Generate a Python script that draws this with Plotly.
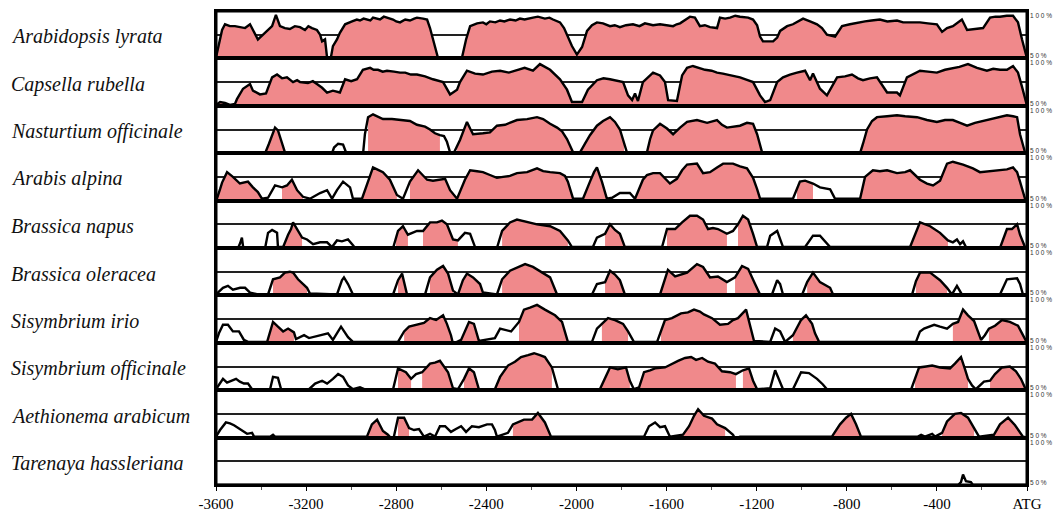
import plotly.graph_objects as go
from plotly.subplots import make_subplots

species = ["Arabidopsis lyrata", "Capsella rubella", "Nasturtium officinale", "Arabis alpina",
           "Brassica napus", "Brassica oleracea", "Sisymbrium irio", "Sisymbrium officinale",
           "Aethionema arabicum", "Tarenaya hassleriana"]

tick_vals = [-3600, -3200, -2800, -2400, -2000, -1600, -1200, -800, -400, 0]
tick_text = ["-3600", "-3200", "-2800", "-2400", "-2000", "-1600", "-1200", "-800", "-400", "ATG"]

# ---- conservation curves (position bp, % identity) ----
lyrata_pos = [-3600, -3591, -3573, -3560, -3538, -3516, -3493, -3471, -3449, -3436, -3414, -3391, -3369, -3351,
              -3334, -3316, -3294, -3272, -3250, -3227, -3205, -3190, -3174, -3152, -3138, -3129, -3116, -3107,
              -3090, -3081, -3063, -3050, -3027, -3010, -2996, -2975, -2961, -2945, -2930, -2915, -2903, -2885,
              -2872, -2855, -2841, -2814, -2800, -2783, -2760, -2739, -2720, -2708, -2681, -2663, -2650, -2632,
              -2615, -2508, -2490, -2472, -2455, -2441, -2415, -2400, -2384, -2360, -2339, -2320, -2295, -2270,
              -2251, -2230, -2193, -2171, -2140, -2120, -2104, -2073, -2055, -2042, -2020, -1998, -1975, -1953,
              -1931, -1909, -1882, -1851, -1830, -1807, -1780, -1749, -1720, -1696, -1660, -1629, -1598, -1571,
              -1555, -1540, -1496, -1474, -1452, -1430, -1407, -1376, -1363, -1340, -1318, -1295, -1274, -1238,
              -1216, -1198, -1185, -1172, -1127, -1109, -1096, -1065, -1039, -1015, -994, -963, -932, -910, -888,
              -852, -821, -786, -750, -719, -690, -653, -620, -577, -550, -519, -475, -440, -400, -377, -355,
              -329, -289, -266, -231, -195, -164, -140, -120, -90, -62, -40, -22, -4, 0]
lyrata_val = [51, 60, 80, 86, 84, 84, 83, 82, 86, 80, 70, 75, 80, 84,
              96, 84, 82, 81, 84, 83, 80, 84, 82, 80, 75, 68, 70, 51,
              51, 63, 70, 77, 86, 88, 89, 91, 90, 92, 91, 90, 93, 92,
              91, 94, 93, 91, 89, 88, 91, 90, 92, 93, 92, 91, 82, 65,
              51, 51, 70, 84, 86, 87, 88, 86, 89, 88, 90, 89, 91, 90,
              92, 91, 93, 94, 92, 93, 91, 88, 82, 75, 63, 54, 62, 79,
              85, 88, 87, 84, 85, 83, 85, 86, 84, 87, 85, 86, 85, 84,
              86, 87, 94, 93, 84, 85, 83, 82, 93, 92, 93, 95, 94, 93,
              91, 85, 73, 68, 68, 72, 79, 84, 86, 89, 92, 89, 86, 82, 75,
              73, 84, 86, 88, 89, 90, 91, 89, 90, 88, 88, 88, 87, 86, 78, 82,
              84, 91, 80, 81, 82, 93, 94, 94, 95, 95, 88, 70, 52, 50]
lyrata_fill = [(-3600, 0)]

capsella_pos = [-3600, -3582, -3560, -3538, -3516, -3507, -3480, -3449, -3436, -3405, -3378, -3351, -3329, -3307,
                -3285, -3258, -3240, -3227, -3192, -3170, -3152, -3129, -3107, -3081, -3050, -3027, -3000, -2974,
                -2948, -2916, -2900, -2881, -2860, -2841, -2810, -2783, -2760, -2735, -2708, -2672, -2637, -2592,
                -2561, -2530, -2517, -2486, -2450, -2415, -2375, -2339, -2300, -2264, -2230, -2193, -2162, -2117,
                -2073, -2042, -2020, -1975, -1949, -1909, -1880, -1851, -1820, -1793, -1771, -1753, -1740, -1727,
                -1705, -1660, -1629, -1607, -1593, -1554, -1531, -1509, -1483, -1455, -1429, -1400, -1376, -1350,
                -1318, -1274, -1240, -1216, -1185, -1163, -1140, -1109, -1083, -1052, -1021, -985, -963, -950,
                -919, -888, -843, -808, -777, -750, -728, -697, -666, -621, -577, -564, -533, -500, -475, -440,
                -400, -364, -329, -300, -262, -222, -178, -150, -120, -89, -62, -40, -22, -4, 0]
capsella_val = [51, 54, 53, 51, 52, 57, 68, 73, 66, 62, 63, 80, 83, 79,
                80, 75, 77, 75, 74, 76, 73, 69, 64, 66, 64, 78, 76, 78,
                88, 90, 88, 88, 86, 87, 86, 85, 85, 83, 83, 81, 78, 75,
                62, 67, 75, 87, 84, 83, 86, 87, 85, 88, 90, 87, 94, 88,
                78, 67, 54, 54, 67, 77, 79, 78, 76, 75, 61, 56, 63, 55,
                75, 85, 82, 75, 56, 55, 82, 90, 92, 90, 88, 87, 85, 84,
                82, 80, 77, 75, 61, 54, 56, 75, 80, 83, 85, 87, 77, 84,
                68, 61, 80, 81, 83, 79, 77, 79, 80, 64, 64, 61, 80, 84, 87, 86,
                85, 88, 90, 91, 94, 90, 87, 89, 88, 88, 92, 85, 70, 51, 50]
capsella_fill = [(-3600, 0)]

nasturtium_pos = [-3600, -3382, -3365, -3351, -3338, -3325, -3307, -3294, -3280, -3085, -3076, -3058, -3036, -3023,
                  -3014, -2947, -2939, -2925, -2903, -2872, -2859, -2819, -2774, -2739, -2708, -2672, -2650, -2628,
                  -2606, -2588, -2575, -2561, -2543, -2530, -2517, -2504, -2486, -2472, -2459, -2415, -2384, -2353,
                  -2317, -2264, -2219, -2175, -2148, -2117, -2086, -2064, -2042, -2015, -1984, -1962, -1940, -1909,
                  -1882, -1851, -1829, -1807, -1789, -1776, -1687, -1673, -1660, -1629, -1598, -1571, -1540, -1509,
                  -1465, -1420, -1376, -1354, -1332, -1305, -1274, -1243, -1216, -1198, -1185, -1176, -1163, -741,
                  -728, -710, -688, -666, -621, -577, -541, -488, -444, -400, -364, -329, -297, -266, -231, -178,
                  -133, -89, -62, -44, -31, -9, 0]
nasturtium_val = [50, 50, 60, 70, 77, 74, 62, 51, 50, 50, 56, 60, 59, 51,
                  50, 50, 70, 88, 91, 88, 86, 86, 85, 84, 80, 78, 75, 71,
                  69, 68, 62, 51, 51, 57, 64, 72, 83, 76, 70, 71, 72, 79,
                  80, 85, 86, 88, 86, 81, 77, 73, 65, 51, 51, 60, 69, 79,
                  84, 88, 83, 75, 60, 51, 51, 65, 74, 81, 76, 70, 77, 83,
                  85, 82, 85, 80, 77, 78, 79, 82, 81, 70, 58, 51, 50, 50,
                  60, 75, 84, 88, 89, 90, 89, 88, 85, 83, 85, 85, 82, 79, 82, 85,
                  87, 90, 89, 88, 70, 51, 50]
nasturtium_fill = [(-3385, -3280), (-2935, -2592), (-2535, -2010), (-1985, -1780), (-1690, -1170), (-745, 0)]

arabis_pos = [-3600, -3596, -3582, -3573, -3551, -3525, -3494, -3458, -3436, -3414, -3396, -3369, -3338, -3307,
              -3285, -3263, -3240, -3214, -3183, -3138, -3107, -3085, -3063, -3036, -3005, -2992, -2952, -2930,
              -2903, -2885, -2859, -2828, -2797, -2770, -2739, -2703, -2663, -2637, -2606, -2583, -2561, -2530,
              -2495, -2472, -2441, -2415, -2384, -2353, -2326, -2295, -2264, -2219, -2175, -2148, -2117, -2073,
              -2051, -2038, -2015, -1971, -1940, -1922, -1909, -1887, -1865, -1842, -1807, -1763, -1740, -1705,
              -1687, -1660, -1629, -1607, -1585, -1554, -1531, -1509, -1483, -1465, -1438, -1407, -1376, -1349,
              -1305, -1274, -1243, -1216, -1198, -1185, -1039, -1021, -1008, -985, -950, -919, -874, -861, -852,
              -741, -719, -684, -653, -621, -577, -541, -519, -475, -444, -417, -386, -355, -329, -284, -240,
              -209, -164, -120, -89, -62, -44, -31, -9, 0]
arabis_val = [51, 52, 62, 69, 80, 75, 68, 70, 64, 59, 52, 53, 66, 64,
              66, 72, 61, 54, 52, 58, 61, 52, 61, 70, 64, 52, 52, 66,
              85, 83, 80, 72, 56, 52, 70, 82, 72, 71, 72, 73, 61, 52,
              72, 82, 81, 80, 77, 74, 75, 76, 79, 80, 84, 81, 80, 79,
              76, 70, 52, 52, 70, 80, 85, 70, 52, 53, 58, 58, 52, 72,
              77, 79, 79, 73, 68, 73, 82, 88, 89, 89, 79, 80, 85, 89,
              89, 86, 84, 74, 62, 52, 52, 62, 70, 71, 68, 64, 62, 56, 52,
              52, 75, 82, 81, 82, 79, 80, 82, 72, 68, 66, 71, 89, 91, 88, 84,
              80, 81, 82, 83, 85, 80, 70, 52, 51]
arabis_fill = [(-3600, -3396), (-3310, -3214), (-2952, -2797), (-2765, -2015), (-1975, -1865),
               (-1740, -1185), (-1025, -950), (-741, 0)]

napus_pos = [-3600, -3502, -3493, -3485, -3480, -3476, -3382, -3369, -3351, -3329, -3325, -3302, -3280, -3267,
             -3258, -3240, -3218, -3196, -3169, -3138, -3107, -3085, -3063, -3041, -3014, -2992, -2983, -2814,
             -2801, -2792, -2770, -2748, -2708, -2681, -2650, -2619, -2597, -2575, -2548, -2526, -2495, -2472,
             -2450, -2353, -2330, -2295, -2264, -2228, -2175, -2117, -2073, -2038, -2020, -1927, -1909, -1873,
             -1851, -1829, -1807, -1785, -1620, -1598, -1562, -1531, -1496, -1465, -1438, -1416, -1394, -1372,
             -1332, -1305, -1283, -1261, -1238, -1216, -1198, -1154, -1140, -1109, -1083, -985, -950, -919,
             -897, -874, -519, -497, -475, -430, -386, -351, -329, -311, -297, -284, -271, -120, -89, -67,
             -44, -31, -9, 0]
napus_val = [50, 50, 55, 61, 52, 50, 50, 66, 69, 66, 51, 51, 64, 70,
             77, 70, 61, 59, 54, 56, 56, 51, 58, 57, 59, 53, 50, 50,
             60, 68, 73, 64, 68, 68, 77, 77, 79, 75, 59, 58, 66, 65,
             51, 50, 68, 77, 80, 78, 75, 73, 68, 58, 51, 51, 61, 65,
             75, 69, 65, 51, 51, 70, 70, 77, 84, 84, 80, 70, 71, 70,
             65, 68, 75, 84, 80, 65, 51, 51, 63, 68, 51, 51, 63, 63,
             57, 51, 51, 65, 77, 73, 66, 58, 56, 59, 54, 57, 51, 50, 70, 70,
             75, 64, 51, 50]
napus_fill = [(-3305, -3214), (-2801, -2710), (-2705, -2526), (-2340, -2025), (-1890, -1785),
              (-1610, -1310), (-1290, -1198), (-519, -351), (-120, 0)]

oleracea_pos = [-3600, -3569, -3547, -3525, -3493, -3471, -3449, -3414, -3369, -3347, -3316, -3294, -3272, -3258,
                -3236, -3196, -3183, -3063, -3041, -3032, -3014, -2992, -2814, -2792, -2774, -2752, -2672, -2650,
                -2619, -2592, -2570, -2548, -2526, -2504, -2486, -2459, -2428, -2415, -2353, -2330, -2295, -2251,
                -2228, -2193, -2148, -2117, -2086, -1931, -1909, -1873, -1851, -1829, -1807, -1785, -1629, -1594,
                -1562, -1509, -1465, -1438, -1407, -1372, -1332, -1296, -1265, -1238, -1207, -1185, -1132, -1109,
                -1096, -1083, -998, -976, -950, -919, -874, -861, -510, -493, -475, -430, -386, -355, -333, -311,
                -289, -120, -89, -44, -31, -18, 0]
oleracea_val = [51, 58, 60, 56, 58, 58, 53, 51, 51, 67, 69, 74, 75, 74,
                67, 58, 52, 51, 66, 69, 62, 51, 51, 66, 73, 51, 51, 69,
                77, 81, 73, 55, 51, 66, 73, 69, 62, 53, 51, 67, 76, 81,
                83, 80, 74, 69, 51, 51, 62, 64, 76, 72, 66, 51, 51, 77,
                70, 74, 83, 80, 69, 70, 64, 69, 81, 78, 62, 51, 51, 66,
                62, 51, 51, 64, 74, 64, 58, 51, 51, 65, 74, 74, 66, 58, 51, 60,
                51, 51, 67, 68, 62, 51, 50]
oleracea_fill = [(-3350, -3185), (-2800, -2752), (-2665, -2548), (-2526, -2415), (-2340, -2086),
                 (-1900, -1785), (-1630, -1332), (-1296, -1185), (-995, -861), (-505, -355)]

irio_pos = [-3600, -3587, -3569, -3547, -3525, -3498, -3476, -3458, -3373, -3347, -3325, -3302, -3280, -3254,
            -3245, -3209, -3187, -3138, -3103, -3081, -3045, -3014, -2992, -2792, -2765, -2743, -2699, -2677,
            -2650, -2623, -2592, -2575, -2557, -2548, -2530, -2512, -2477, -2455, -2433, -2362, -2339, -2290,
            -2255, -2233, -2206, -2175, -2140, -2095, -2064, -2038, -1931, -1909, -1887, -1860, -1829, -1793,
            -1771, -1745, -1642, -1625, -1607, -1576, -1536, -1505, -1478, -1452, -1434, -1398, -1363, -1327,
            -1305, -1283, -1247, -1229, -1212, -1140, -1118, -1096, -1074, -1039, -1003, -981, -954, -941,
            -923, -493, -475, -457, -412, -386, -355, -329, -306, -284, -262, -235, -218, -204, -187, -169,
            -142, -111, -76, -40, -22, -4, 0]
irio_val = [51, 60, 69, 69, 62, 62, 53, 51, 51, 72, 67, 62, 65, 61,
            54, 58, 55, 58, 60, 53, 67, 56, 51, 51, 62, 67, 70, 71,
            76, 74, 79, 70, 58, 49, 51, 53, 72, 70, 52, 55, 65, 62,
            72, 85, 87, 90, 85, 79, 72, 51, 51, 65, 70, 76, 74, 70,
            62, 51, 51, 62, 74, 76, 81, 82, 85, 83, 80, 76, 69, 70,
            74, 76, 85, 68, 52, 51, 65, 62, 51, 58, 74, 79, 70, 60,
            51, 51, 62, 65, 69, 67, 65, 70, 72, 85, 79, 73, 62, 53, 58, 65,
            68, 74, 72, 68, 60, 51, 50]
irio_fill = [(-3373, -3254), (-2770, -2557), (-2515, -2433), (-2265, -2038), (-1900, -1771),
             (-1630, -1212), (-1045, -923), (-335, -204), (-175, 0)]

officinale_pos = [-3600, -3569, -3551, -3533, -3511, -3494, -3476, -3458, -3440, -3360, -3347, -3325, -3311, -3187,
                  -3160, -3129, -3107, -3081, -3058, -3036, -3014, -2992, -2961, -2939, -2814, -2792, -2757, -2734,
                  -2712, -2685, -2650, -2628, -2606, -2570, -2548, -2526, -2499, -2477, -2455, -2433, -2362, -2339,
                  -2304, -2273, -2246, -2215, -2188, -2162, -2140, -2109, -2082, -1896, -1873, -1851, -1816, -1780,
                  -1763, -1745, -1722, -1700, -1673, -1651, -1607, -1576, -1549, -1518, -1491, -1469, -1442, -1416,
                  -1385, -1354, -1318, -1292, -1261, -1234, -1216, -1198, -1140, -1118, -1100, -1083, -1039, -1003,
                  -968, -932, -906, -888, -514, -497, -479, -448, -421, -386, -342, -320, -293, -275, -262, -244,
                  -227, -191, -164, -142, -111, -76, -49, -27, -4, 0]
officinale_val = [51, 62, 58, 60, 62, 59, 57, 57, 51, 51, 64, 63, 51, 51,
                  57, 60, 57, 62, 67, 64, 55, 51, 53, 51, 51, 73, 69, 62,
                  67, 69, 78, 79, 81, 69, 52, 51, 62, 73, 69, 51, 51, 64,
                  76, 80, 85, 87, 89, 87, 85, 74, 51, 51, 62, 74, 72, 74,
                  60, 51, 53, 69, 71, 73, 74, 78, 81, 84, 85, 82, 84, 80,
                  78, 70, 69, 67, 71, 73, 60, 51, 52, 71, 60, 51, 51, 69,
                  68, 62, 56, 51, 51, 63, 74, 75, 76, 74, 73, 78, 85, 72, 62, 55,
                  51, 59, 60, 67, 74, 75, 70, 62, 50, 50]
officinale_fill = [(-2800, -2734), (-2710, -2548), (-2515, -2433), (-2365, -2095), (-1900, -1763),
                   (-1725, -1292), (-1285, -1198), (-510, -250), (-170, 0)]

aethionema_pos = [-3600, -3582, -3556, -3538, -3520, -3489, -3462, -3440, -3431, -3360, -3347, -3338, -2930, -2908,
                  -2885, -2859, -2837, -2814, -2792, -2765, -2743, -2721, -2699, -2677, -2650, -2628, -2606, -2583,
                  -2557, -2535, -2512, -2490, -2464, -2433, -2397, -2375, -2362, -2353, -2304, -2282, -2255, -2233,
                  -2197, -2171, -2140, -2113, -1700, -1678, -1651, -1629, -1607, -1585, -1527, -1500, -1478, -1460,
                  -1434, -1398, -1376, -1340, -1305, -1296, -1274, -866, -830, -803, -781, -759, -737, -484, -470,
                  -453, -421, -408, -377, -355, -320, -293, -262, -235, -213, -147, -120, -84, -53, -18, 0]
aethionema_val = [51, 58, 66, 65, 63, 58, 54, 55, 51, 51, 53, 51, 51, 64,
                  69, 57, 53, 47, 71, 71, 60, 58, 59, 51, 54, 51, 62, 62,
                  56, 59, 62, 56, 62, 61, 64, 64, 58, 51, 55, 64, 67, 69,
                  69, 76, 66, 51, 51, 62, 66, 61, 62, 51, 53, 62, 73, 80,
                  73, 70, 64, 60, 53, 49, 51, 51, 64, 71, 75, 64, 51, 51, 53,
                  51, 54, 51, 55, 67, 75, 76, 71, 60, 51, 53, 64, 71, 63, 51, 50]
aethionema_fill = [(-2930, -2837), (-2800, -2730), (-2285, -2113), (-1530, -1330), (-875, -737),
                   (-380, -230), (-150, 0)]

tarenaya_pos = [-3600, -306, -293, -284, -271, -249, -240, 0]
tarenaya_val = [50, 50, 53, 61, 54, 53, 50, 50]
tarenaya_fill = []

curves = [(lyrata_pos, lyrata_val, lyrata_fill), (capsella_pos, capsella_val, capsella_fill),
          (nasturtium_pos, nasturtium_val, nasturtium_fill), (arabis_pos, arabis_val, arabis_fill),
          (napus_pos, napus_val, napus_fill), (oleracea_pos, oleracea_val, oleracea_fill),
          (irio_pos, irio_val, irio_fill), (officinale_pos, officinale_val, officinale_fill),
          (aethionema_pos, aethionema_val, aethionema_fill), (tarenaya_pos, tarenaya_val, tarenaya_fill)]

PINK = "#F0898B"
SERIF = "Liberation Serif, Times New Roman, serif"
SANS = "Liberation Sans, Arial, sans-serif"
n = len(species)
fig = make_subplots(rows=n, cols=1, shared_xaxes=True, vertical_spacing=0)

for i, (pos, val, segs) in enumerate(curves):
    row = i + 1
    for a, b in segs:
        xs = [p for p in pos if a <= p <= b]
        ys = [v for p, v in zip(pos, val) if a <= p <= b]
        if len(xs) < 2:
            continue
        fig.add_trace(go.Scatter(x=xs, y=ys, mode="lines", fill="tozeroy", fillcolor=PINK,
                                 line=dict(width=0, color=PINK), hoverinfo="skip", showlegend=False),
                      row=row, col=1)
    fig.add_trace(go.Scatter(x=pos, y=val, mode="lines", line=dict(color="black", width=2.4),
                             hoverinfo="skip", showlegend=False), row=row, col=1)
    fig.update_yaxes(range=[50, 100], tickvals=[75], showticklabels=False, ticks="",
                     showgrid=True, gridcolor="#222222", gridwidth=1.5, zeroline=False,
                     showline=True, mirror=True, linecolor="black", linewidth=2, row=row, col=1)
    fig.update_xaxes(range=[-3600, 0], showgrid=False, zeroline=False, showline=True, mirror=True,
                     linecolor="black", linewidth=2, row=row, col=1,
                     showticklabels=(row == n), ticks=("outside" if row == n else ""))

fig.update_xaxes(tickvals=tick_vals, ticktext=tick_text, ticklen=4, tickwidth=1, tickcolor="black",
                 minor=dict(dtick=200, tick0=-3600, ticks="outside", ticklen=3, tickcolor="#555"),
                 tickfont=dict(family=SERIF, size=15, color="black"),
                 row=n, col=1)

annotations = []
for i, name in enumerate(species):
    yc = 1 - (i + 0.5) / n
    annotations.append(dict(x=-0.2553, y=yc, xref="paper", yref="paper", text="<i>" + name + "</i>",
                            showarrow=False, xanchor="left", yanchor="middle", yshift=-2,
                            font=dict(family=SERIF, size=20, color="#111")))
    annotations.append(dict(x=1.001, y=1 - i / n, xref="paper", yref="paper", text="1 0 0 %",
                            showarrow=False, xanchor="left", yanchor="middle", yshift=-4.5,
                            font=dict(family=SANS, size=6.5, color="#333")))
    annotations.append(dict(x=1.001, y=1 - (i + 1) / n, xref="paper", yref="paper", text="5 0 %",
                            showarrow=False, xanchor="left", yanchor="middle", yshift=2.5,
                            font=dict(family=SANS, size=6.5, color="#333")))

# the page body adds an 8px offset, so the figure is sized to sit inside the window
fig.update_layout(width=1053, height=506, margin=dict(l=208, r=34, t=1, b=29),
                  paper_bgcolor="white", plot_bgcolor="white", annotations=annotations,
                  shapes=[dict(type="rect", xref="paper", yref="paper", x0=0, x1=1, y0=0, y1=1,
                               line=dict(color="black", width=3), fillcolor="rgba(0,0,0,0)")])

fig.write_html("out.html")
